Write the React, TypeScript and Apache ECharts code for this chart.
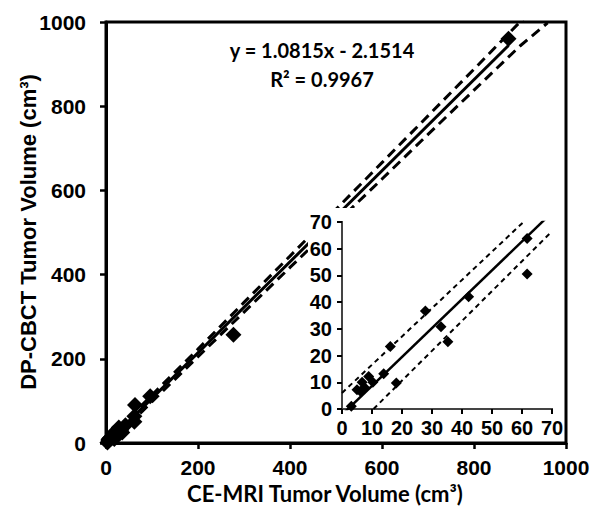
import React, { useEffect, useRef } from "react";
import * as echarts from "echarts";

// Measured tumour volumes (cm³)
const mriVolume = [3.1, 5.0, 6.1, 6.7, 7.6, 8.9, 10.3, 13.9, 16.1, 18.1, 27.8, 33.0, 35.3, 42.2, 61.7, 61.7, 63, 96, 277, 875];
const cbctVolume = [1.0, 7.2, 6.6, 10.0, 8.0, 12.2, 10.0, 13.2, 23.4, 9.7, 36.7, 30.8, 25.2, 42.0, 63.8, 50.5, 90, 111, 257, 960];

// Linear fit printed on the chart
const fitSlope = 1.0815;
const fitIntercept = -2.1514;
const fitRangeX = [0, 875];

// Dashed band of the main chart
const bandX = [0, 100, 200, 300, 400, 500, 600, 700, 800, 900, 960];
const bandUpper = [6, 114, 223, 334, 444, 555, 666, 777, 888, 1000, 1065];
const bandLower = [-10, 98, 205, 311, 417, 522, 627, 733, 838, 943, 998];

// Dashed band of the inset
const insetUpperX = [0, 60.5];
const insetUpperY = [6, 70];
const insetLowerX = [10.5, 70];
const insetLowerY = [0, 66.5];

const equationLines = ["y = 1.0815x - 2.1514", "R² = 0.9967"];
const xTitle = "CE-MRI Tumor Volume (cm³)";
const yTitle = "DP-CBCT Tumor Volume (cm³)";

const zip = (xs: number[], ys: number[]) => xs.map((x, i) => [x, ys[i]]);

export default function App() {
  const ref = useRef<HTMLDivElement>(null);
  useEffect(() => {
    if (!ref.current) return;
    const chart = echarts.init(ref.current, undefined, { renderer: "svg" });
    const points = zip(mriVolume, cbctVolume);
    const fitLine = fitRangeX.map((x) => [x, fitSlope * x + fitIntercept]);
    const tickFont = {
      fontFamily: "Liberation Sans",
      fontWeight: "bold" as const,
      color: "#000",
      formatter: (v: number) => String(v),
    };

    chart.setOption({
      animation: false,
      backgroundColor: "#fff",
      grid: [
        { left: 106, top: 22, width: 460, height: 421, show: true, borderColor: "#000", borderWidth: 3, backgroundColor: "transparent" },
        { left: 342, top: 222, width: 210, height: 187, show: false },
      ],
      xAxis: [
        {
          gridIndex: 0, type: "value", min: 0, max: 1000, interval: 200,
          axisLine: { lineStyle: { color: "#000", width: 3 } },
          axisTick: { length: 6, lineStyle: { color: "#000", width: 2.5 } },
          splitLine: { show: false },
          axisLabel: { ...tickFont, fontSize: 21, margin: 14 },
        },
        {
          gridIndex: 1, type: "value", min: 0, max: 70, interval: 10, z: 10,
          axisLine: { lineStyle: { color: "#000", width: 2 } },
          axisTick: { length: 5, lineStyle: { color: "#000", width: 2 } },
          splitLine: { show: false },
          axisLabel: { ...tickFont, fontSize: 20, margin: 9 },
        },
        {
          gridIndex: 1, type: "value", min: 0, max: 70, position: "top", z: 10,
          axisLine: { show: true, lineStyle: { color: "#444", width: 2 } },
          axisTick: { show: false }, axisLabel: { show: false }, splitLine: { show: false },
        },
      ],
      yAxis: [
        {
          gridIndex: 0, type: "value", min: 0, max: 1000, interval: 200,
          axisLine: { lineStyle: { color: "#000", width: 3 } },
          axisTick: { length: 6, lineStyle: { color: "#000", width: 2.5 } },
          splitLine: { show: false },
          axisLabel: { ...tickFont, fontSize: 21, margin: 20 },
        },
        {
          gridIndex: 1, type: "value", min: 0, max: 70, interval: 10, z: 10,
          axisLine: { lineStyle: { color: "#000", width: 2 } },
          axisTick: { length: 5, lineStyle: { color: "#000", width: 2 } },
          splitLine: { show: false },
          axisLabel: { ...tickFont, fontSize: 20, margin: 10 },
        },
        {
          gridIndex: 1, type: "value", min: 0, max: 70, position: "right", z: 10,
          axisLine: { show: true, lineStyle: { color: "#444", width: 2 } },
          axisTick: { show: false }, axisLabel: { show: false }, splitLine: { show: false },
        },
      ],
      graphic: [
        { type: "rect", z: 5, shape: { x: 308, y: 208, width: 256, height: 233 }, style: { fill: "#fff" } },
        {
          type: "text", z: 20, x: 322, y: 50,
          style: { text: equationLines[0], fontFamily: "Lato", fontWeight: "bold", fontSize: 20, fill: "#000", textAlign: "center", textVerticalAlign: "middle" },
        },
        {
          type: "text", z: 20, x: 322, y: 79,
          style: { text: equationLines[1], fontFamily: "Lato", fontWeight: "bold", fontSize: 20, fill: "#000", textAlign: "center", textVerticalAlign: "middle" },
        },
        {
          type: "text", z: 20, x: 325, y: 493,
          style: { text: xTitle, fontFamily: "Lato", fontWeight: "bold", fontSize: 22, fill: "#000", textAlign: "center", textVerticalAlign: "middle" },
        },
        {
          type: "text", z: 20, x: 28, y: 232, rotation: Math.PI / 2,
          style: { text: yTitle, fontFamily: "Liberation Sans", fontWeight: "bold", fontSize: 22, fill: "#000", textAlign: "center", textVerticalAlign: "middle" },
        },
      ],
      series: [
        {
          type: "line", xAxisIndex: 0, yAxisIndex: 0, data: zip(bandX, bandUpper), showSymbol: false, silent: true, z: 2,
          lineStyle: { color: "#000", width: 3, type: [10, 6] },
        },
        {
          type: "line", xAxisIndex: 0, yAxisIndex: 0, data: zip(bandX, bandLower), showSymbol: false, silent: true, z: 2,
          lineStyle: { color: "#000", width: 3, type: [10, 6] },
        },
        {
          type: "line", xAxisIndex: 0, yAxisIndex: 0, data: fitLine, showSymbol: false, silent: true, z: 2,
          lineStyle: { color: "#000", width: 3 },
        },
        {
          type: "scatter", xAxisIndex: 0, yAxisIndex: 0, data: points, symbol: "diamond", symbolSize: 16, silent: true, z: 3,
          itemStyle: { color: "#000", opacity: 1 },
        },
        {
          type: "line", xAxisIndex: 1, yAxisIndex: 1, data: zip(insetUpperX, insetUpperY), showSymbol: false, silent: true, z: 12,
          lineStyle: { color: "#000", width: 2, type: [5, 4] },
        },
        {
          type: "line", xAxisIndex: 1, yAxisIndex: 1, data: zip(insetLowerX, insetLowerY), showSymbol: false, silent: true, z: 12,
          lineStyle: { color: "#000", width: 2, type: [5, 4] },
        },
        {
          type: "line", xAxisIndex: 1, yAxisIndex: 1, data: fitLine, showSymbol: false, silent: true, z: 12,
          lineStyle: { color: "#000", width: 2.5 },
        },
        {
          type: "scatter", xAxisIndex: 1, yAxisIndex: 1, data: points, symbol: "diamond", symbolSize: 11, silent: true, z: 13,
          itemStyle: { color: "#000", opacity: 1 },
        },
      ],
    });
    return () => chart.dispose();
  }, []);
  return <div ref={ref} style={{ width: 601, height: 514, position: "absolute", left: 0, top: 0 }} />;
}
